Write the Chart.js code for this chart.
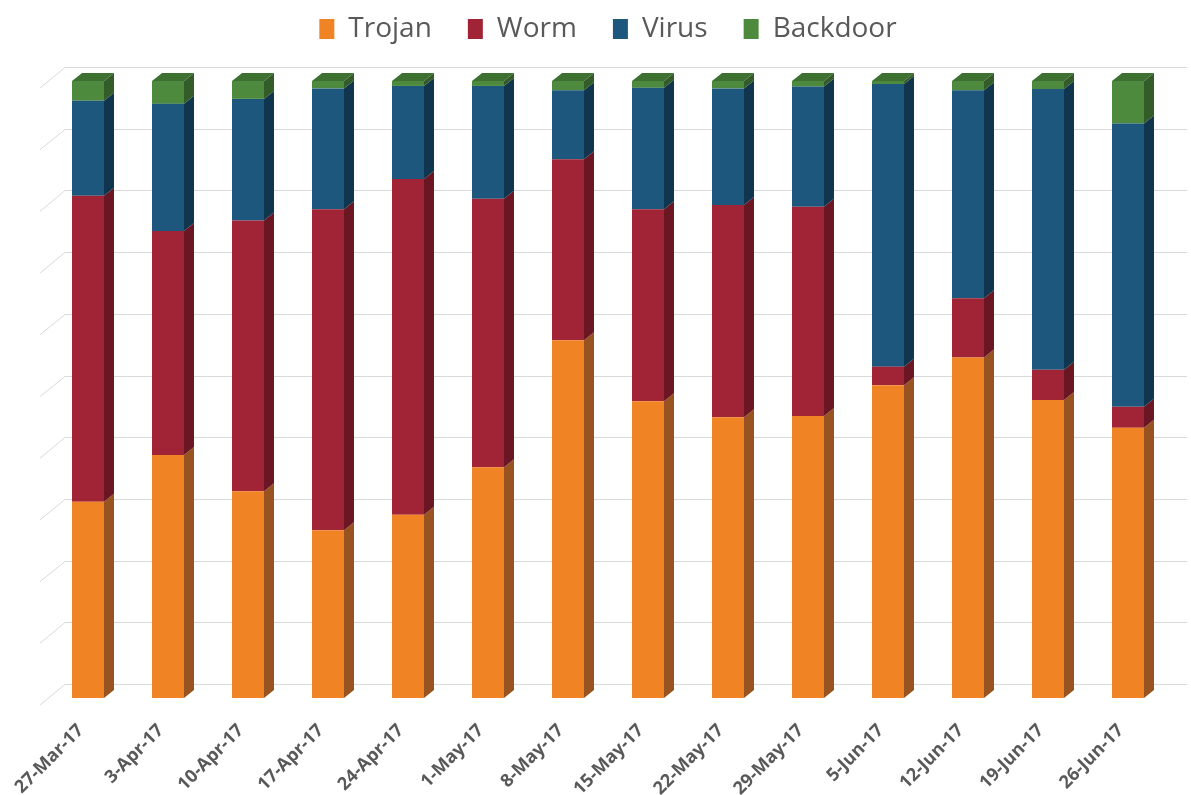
<!DOCTYPE html>
<html>
<head>
<meta charset="utf-8">
<script src="https://cdn.jsdelivr.net/npm/chart.js@4.4.1/dist/chart.umd.min.js"></script>
<style>
html,body{margin:0;padding:0;background:#ffffff;}
#wrap{width:1191px;height:795px;position:relative;}
</style>
</head>
<body>
<div id="wrap"><canvas id="c"></canvas></div>
<script>
// ---- data (percent shares, 100% stacked) ----
const categories = ['27-Mar-17','3-Apr-17','10-Apr-17','17-Apr-17','24-Apr-17','1-May-17','8-May-17','15-May-17','22-May-17','29-May-17','5-Jun-17','12-Jun-17','19-Jun-17','26-Jun-17'];
const trojan   = [31.8,39.4,33.5,27.2,29.7,37.4,58.0,48.1,45.5,45.7,50.7,55.2,48.3,43.8];
const worm     = [49.6,36.3,43.9,52.0,54.4,43.5,29.3,31.1,34.4,33.9, 3.0, 9.6, 4.9, 3.4];
const virus    = [15.4,20.6,19.7,19.6,15.1,18.3,11.2,19.7,18.9,19.5,45.8,33.7,45.5,45.9];
const backdoor = [ 3.2, 3.7, 2.9, 1.2, 0.8, 0.8, 1.5, 1.1, 1.2, 0.9, 0.5, 1.5, 1.3, 6.9];
const seriesNames = ['Trojan','Worm','Virus','Backdoor'];
const yMin = 0, yMax = 100, yStep = 10;

// ---- styles ----
const frontColors = ['#F08323','#A02435','#1E577D','#4E8A3E'];
const sideColors  = ['#985321','#6A1623','#10354F','#325D29'];
const topColor    = '#3D7031';
const textGray    = '#595959';

Chart.defaults.font.family = "'Open Sans', sans-serif";

const seriesValues = [trojan, worm, virus, backdoor];

const backGrid = {
  id: 'backGrid',
  beforeDatasetsDraw(chart, args, o) {
    const {ctx, chartArea, scales} = chart;
    const y = scales.y;
    ctx.save();
    ctx.strokeStyle = o.color;
    ctx.lineWidth = 1;
    y.ticks.forEach(t => {
      const yf = y.getPixelForValue(t.value);
      const yb = Math.round(yf - o.backDy) + 0.5;
      ctx.beginPath();
      ctx.moveTo(chartArea.left + o.wallX0, yf + o.frontDy);
      ctx.lineTo(chartArea.left + o.wallX1, yb);
      ctx.lineTo(chartArea.right + o.extendRight, yb);
      ctx.stroke();
    });
    ctx.restore();
  }
};

const bar3d = {
  id: 'bar3d',
  afterDatasetsDraw(chart, args, o) {
    const ctx = chart.ctx;
    const metas = chart.getSortedVisibleDatasetMetas();
    ctx.save();
    metas.forEach((meta, di) => {
      const ds = chart.data.datasets[meta.index];
      meta.data.forEach(el => {
        const p = el.getProps(['x','y','base','width'], true);
        const l = p.x - p.width / 2, r = p.x + p.width / 2;
        const top = Math.min(p.y, p.base), bot = Math.max(p.y, p.base);
        ctx.fillStyle = ds.sideColor;
        ctx.beginPath();
        ctx.moveTo(r, top);
        ctx.lineTo(r + o.dx, top - o.dy);
        ctx.lineTo(r + o.dx, bot - o.dy);
        ctx.lineTo(r, bot);
        ctx.closePath();
        ctx.fill();
        if (di === metas.length - 1) {
          ctx.fillStyle = o.topColor;
          ctx.beginPath();
          ctx.moveTo(l, top);
          ctx.lineTo(l + o.dx, top - o.dy);
          ctx.lineTo(r + o.dx, top - o.dy);
          ctx.lineTo(r, top);
          ctx.closePath();
          ctx.fill();
        }
      });
    });
    ctx.restore();
  }
};

const legendShift = {
  id: 'legendShift',
  afterLayout(chart, args, o) {
    const lg = chart.legend;
    if (lg) { lg.top += o.dy; lg.bottom += o.dy; }
  }
};

new Chart(document.getElementById('c'), {
  type: 'bar',
  data: {
    labels: categories,
    datasets: seriesNames.map((name, i) => ({
      label: name,
      data: seriesValues[i],
      backgroundColor: frontColors[i],
      sideColor: sideColors[i],
      borderWidth: 0,
      barPercentage: 0.4,
      categoryPercentage: 1.0
    }))
  },
  options: {
    responsive: true,
    maintainAspectRatio: false,
    animation: false,
    layout: { autoPadding: false, padding: { top: 7, left: 48, right: 23, bottom: 0 } },
    plugins: {
      tooltip: { enabled: false },
      legend: {
        position: 'top',
        align: 'center',
        labels: {
          color: textGray,
          font: { size: 28, family: "'Open Sans', sans-serif" },
          boxWidth: 15,
          boxHeight: 20,
          padding: 36
        }
      },
      backGrid: { color: '#D9D9D9', wallX0: -8, wallX1: 17, frontDy: 7, backDy: 14, extendRight: 19 },
      bar3d: { dx: 10, dy: 8, topColor: topColor },
      legendShift: { dy: -28 }
    },
    scales: {
      x: {
        stacked: true,
        grid: { display: false, drawTicks: false },
        border: { display: false },
        ticks: {
          color: textGray,
          font: { size: 18, weight: 'bold' },
          minRotation: 45,
          maxRotation: 45,
          autoSkip: false,
          padding: 22,
          labelOffset: -7
        },
        afterFit(scale) { scale.height = 97; }
      },
      y: {
        stacked: true,
        min: yMin,
        max: yMax,
        ticks: { stepSize: yStep, display: false },
        grid: { display: false, drawTicks: false },
        border: { display: false }
      }
    }
  },
  plugins: [backGrid, bar3d, legendShift]
});
</script>
</body>
</html>
